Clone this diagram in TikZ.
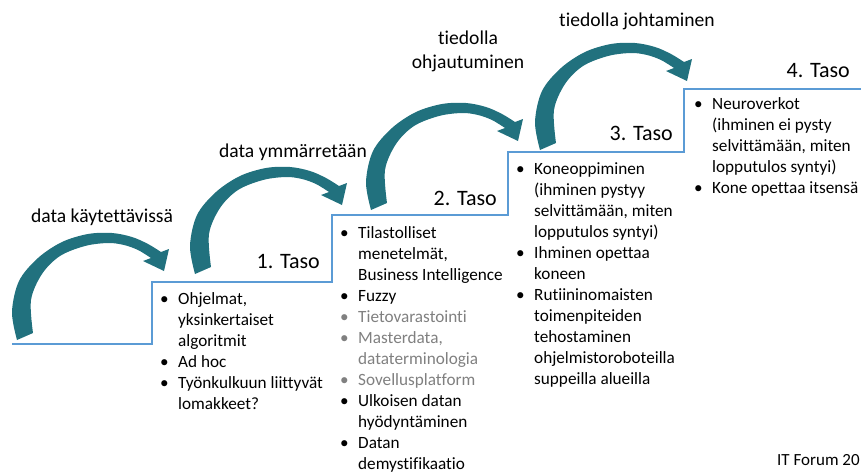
\documentclass[tikz,border=0pt]{standalone}
\usepackage{fontspec}
\setmainfont{Carlito}[Ligatures=NoCommon]
\usetikzlibrary{positioning}

\definecolor{stepblue}{RGB}{91,155,213}
\definecolor{bendteal}{RGB}{33,113,126}
\newcommand{\bul}{\makebox[18pt][l]{\textbullet}}
\newcommand{\ind}{\hspace*{18pt}}
\newcommand{\faded}{\color{black!50}}

\begin{document}
\begin{tikzpicture}[
    x=1pt, y=-1pt,
    stair/.style={draw=stepblue, line width=2.6pt},
    level/.style={anchor=base east, inner sep=0pt, font=\fontsize{22}{26}\selectfont},
    phase/.style={anchor=base, inner sep=0pt, align=center, font=\fontsize{19.6}{24}\selectfont},
    items/.style={anchor=base west, inner sep=0pt, font=\fontsize{17.2}{21}\selectfont},
    bend/.pic={
        \fill[bendteal] plot[smooth, tension=0.55] coordinates {(-147,69) (-152,41) (-145,10) (-126,-13) (-102,-29) (-76,-37) (-52,-38) (-32,-34) (-16,-27) (-3,-19)}
            -- (5,-22) -- (0,0) -- (-21,-10)
            -- plot[smooth, tension=0.55] coordinates {(-13,-13) (-26,-21) (-40,-26) (-56,-28) (-79,-25) (-104,-15) (-122,3) (-133,29) (-131,62)} -- cycle;
    }
]

    \useasboundingbox (0,0) rectangle (861,471);

    % portaat
    \draw[stair] (12,344) -| (152,282) -| (332,215) -| (508,152) -| (684,89) -- (861,89);

    % kaarinuolet
    \pic (bend1) at (164,271) {bend};
    \pic (bend2) at (342,205) {bend};
    \pic (bend3) at (518,141) {bend};
    \pic (bend4) at (687,81) {bend};

    \node[phase] (phase1) at (102,222) {data käytettävissä};
    \node[phase] (phase2) at (293,157) {data ymmärretään};
    \node[phase] (phase3) at (468,68) {tiedolla\\ohjautuminen};
    \node[phase] (phase4) at (637,27) {tiedolla johtaminen};

    \node[level] (taso1) at (320,268) {1. Taso};
    \node[level] (taso2) at (497,205) {2. Taso};
    \node[level] (taso3) at (673,140) {3. Taso};
    \node[level] (taso4) at (850,77) {4. Taso};

    \node[items] (list1) at (160,304) {\begin{tabular}[t]{@{}l@{}}
        \bul Ohjelmat,\\
        \ind yksinkertaiset\\
        \ind algoritmit\\
        \bul Ad hoc\\
        \bul Työnkulkuun liittyvät\\
        \ind lomakkeet?
    \end{tabular}};

    \node[items] (list2) at (340,238) {\begin{tabular}[t]{@{}l@{}}
        \bul Tilastolliset\\
        \ind menetelmät,\\
        \ind Business Intelligence\\
        \bul Fuzzy\\
        {\faded\bul Tietovarastointi}\\
        {\faded\bul Masterdata,}\\
        {\faded\ind dataterminologia}\\
        {\faded\bul Sovellusplatform}\\
        \bul Ulkoisen datan\\
        \ind hyödyntäminen\\
        \bul Datan\\
        \ind demystifikaatio
    \end{tabular}};

    \node[items] (list3) at (516,174) {\begin{tabular}[t]{@{}l@{}}
        \bul Koneoppiminen\\
        \ind (ihminen pystyy\\
        \ind selvittämään, miten\\
        \ind lopputulos syntyi)\\
        \bul Ihminen opettaa\\
        \ind koneen\\
        \bul Rutiininomaisten\\
        \ind toimenpiteiden\\
        \ind tehostaminen\\
        \ind ohjelmistoroboteilla\\
        \ind suppeilla alueilla
    \end{tabular}};

    \node[items] (list4) at (694,109) {\begin{tabular}[t]{@{}l@{}}
        \bul Neuroverkot\\
        \ind (ihminen ei pysty\\
        \ind selvittämään, miten\\
        \ind lopputulos syntyi)\\
        \bul Kone opettaa itsensä
    \end{tabular}};

    \node[anchor=base west, inner sep=0pt, font=\fontsize{17}{20}\selectfont] (forum) at (777,465) {IT Forum 20};

\end{tikzpicture}
\end{document}
